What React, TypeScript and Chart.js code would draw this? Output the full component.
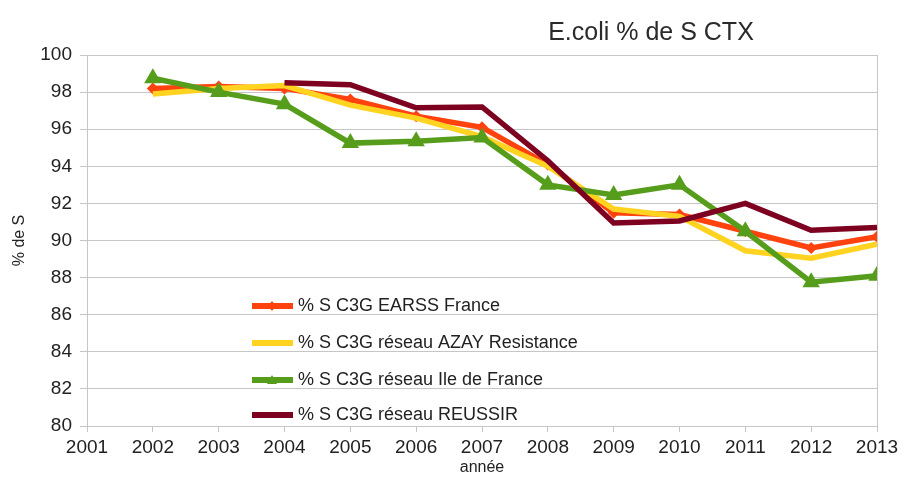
import React, { useEffect, useRef } from "react";
import { Chart, registerables } from "chart.js";

Chart.register(...registerables);

const TITLE = "E.coli % de S CTX";
const X_TITLE = "année";
const Y_TITLE = "% de S";

const years = [2002, 2003, 2004, 2005, 2006, 2007, 2008, 2009, 2010, 2011, 2012, 2013];
const earss = [98.2, 98.3, 98.2, 97.6, 96.7, 96.1, 94.1, 91.5, 91.4, 90.5, 89.6, 90.2];
const azay = [97.9, 98.2, 98.35, 97.3, 96.6, 95.6, 94.0, 91.7, 91.3, 89.45, 89.05, 89.8];
const idf = [98.75, 98.0, 97.35, 95.25, 95.35, 95.55, 93.0, 92.45, 93.0, 90.5, 87.75, 88.1];
const reussir = [null, null, 98.5, 98.4, 97.15, 97.2, 94.3, 90.95, 91.05, 92.0, 90.55, 90.7];

const seriesLabels = [
  "% S C3G EARSS France",
  "% S C3G réseau AZAY Resistance",
  "% S C3G réseau Ile de France",
  "% S C3G réseau REUSSIR",
];
const seriesColors = ["#ff420e", "#ffd320", "#579d1c", "#7e0021"];

const X_MIN = 2001;
const X_MAX = 2013;
const Y_MIN = 80;
const Y_MAX = 100;
const Y_STEP = 2;

const FONT = "'Liberation Sans', Arial, sans-serif";
const GRID = "#c6c6c6";
const TEXT = "#222222";

function toPoints(vals: (number | null)[]) {
  return years.map((y, i) => ({ x: y, y: vals[i] }));
}

const titlePlugin = {
  id: "customTitle",
  afterDraw(chart: any) {
    const { ctx } = chart;
    ctx.save();
    ctx.font = `25px ${FONT}`;
    ctx.fillStyle = "#2a2a2a";
    ctx.textAlign = "center";
    ctx.textBaseline = "middle";
    ctx.fillText(TITLE, 651, 33);
    ctx.restore();
  },
};

const legendPlugin = {
  id: "insideLegend",
  afterDatasetsDraw(chart: any) {
    const { ctx, chartArea } = chart;
    const x0 = chartArea.left + 165;
    const rows = [306, 343, 380, 415];
    ctx.save();
    chart.data.datasets.forEach((ds: any, i: number) => {
      const y = rows[i];
      ctx.strokeStyle = ds.borderColor;
      ctx.lineWidth = 6;
      ctx.lineCap = "butt";
      ctx.beginPath();
      ctx.moveTo(x0, y);
      ctx.lineTo(x0 + 41, y);
      ctx.stroke();
      if (ds.legendMarker === "diamond") {
        ctx.fillStyle = ds.borderColor;
        ctx.beginPath();
        ctx.moveTo(x0 + 20, y - 5);
        ctx.lineTo(x0 + 24, y);
        ctx.lineTo(x0 + 20, y + 5);
        ctx.lineTo(x0 + 16, y);
        ctx.closePath();
        ctx.fill();
      } else if (ds.legendMarker === "triangle") {
        ctx.fillStyle = ds.borderColor;
        ctx.beginPath();
        ctx.moveTo(x0 + 20, y - 5);
        ctx.lineTo(x0 + 25, y + 4);
        ctx.lineTo(x0 + 15, y + 4);
        ctx.closePath();
        ctx.fill();
      }
      ctx.font = `18px ${FONT}`;
      ctx.fillStyle = TEXT;
      ctx.textAlign = "left";
      ctx.textBaseline = "middle";
      ctx.fillText(ds.label, x0 + 46, y);
    });
    ctx.restore();
  },
};

export default function App() {
  const ref = useRef<HTMLCanvasElement | null>(null);

  useEffect(() => {
    document.body.style.margin = "0";
    const canvas = ref.current;
    if (!canvas) return;
    const chart = new Chart(canvas, {
      type: "line",
      data: {
        datasets: [
          {
            label: seriesLabels[0],
            data: toPoints(earss),
            borderColor: seriesColors[0],
            backgroundColor: seriesColors[0],
            borderWidth: 5.5,
            pointStyle: "rectRot",
            pointRadius: 6,
            pointBorderWidth: 0,
            order: 4,
            legendMarker: "diamond",
          } as any,
          {
            label: seriesLabels[1],
            data: toPoints(azay),
            borderColor: seriesColors[1],
            backgroundColor: seriesColors[1],
            borderWidth: 5.5,
            pointRadius: 0,
            order: 3,
            legendMarker: "none",
          } as any,
          {
            label: seriesLabels[2],
            data: toPoints(idf),
            borderColor: seriesColors[2],
            backgroundColor: seriesColors[2],
            borderWidth: 5.5,
            pointStyle: "triangle",
            pointRadius: 10,
            pointBorderWidth: 0,
            order: 2,
            legendMarker: "triangle",
          } as any,
          {
            label: seriesLabels[3],
            data: toPoints(reussir),
            borderColor: seriesColors[3],
            backgroundColor: seriesColors[3],
            borderWidth: 5.5,
            pointRadius: 0,
            order: 1,
            legendMarker: "none",
          } as any,
        ],
      },
      options: {
        animation: false,
        responsive: false,
        maintainAspectRatio: false,
        spanGaps: false,
        layout: { padding: { top: 55, right: 26, left: 0, bottom: 0 } },
        plugins: {
          legend: { display: false },
          title: { display: false },
          tooltip: { enabled: false },
        },
        scales: {
          x: {
            type: "linear",
            min: X_MIN,
            max: X_MAX,
            afterFit(s: any) {
              s.height = 51;
            },
            ticks: {
              stepSize: 1,
              color: TEXT,
              font: { family: FONT, size: 19 },
              padding: 4,
              callback: (v: any) => String(v),
            },
            grid: {
              color: (c: any) => (c.index === X_MAX - X_MIN ? GRID : "rgba(0,0,0,0)"),
              tickColor: GRID,
              tickLength: 6,
              lineWidth: 1,
            },
            border: { color: GRID, width: 1 },
            title: {
              display: true,
              text: X_TITLE,
              color: TEXT,
              font: { family: FONT, size: 16 },
              padding: { top: 1, bottom: 0 },
            },
          },
          y: {
            type: "linear",
            min: Y_MIN,
            max: Y_MAX,
            afterFit(s: any) {
              s.width = 87;
            },
            ticks: {
              stepSize: Y_STEP,
              color: TEXT,
              font: { family: FONT, size: 19 },
              padding: 8,
            },
            grid: {
              color: GRID,
              tickColor: GRID,
              tickLength: 7,
              lineWidth: 1,
            },
            border: { color: GRID, width: 1 },
            title: {
              display: true,
              text: Y_TITLE,
              color: TEXT,
              font: { family: FONT, size: 16 },
              padding: { top: 10, bottom: 0 },
            },
          },
        },
      } as any,
      plugins: [titlePlugin, legendPlugin],
    });
    return () => chart.destroy();
  }, []);

  return (
    <div style={{ width: 903, height: 477, position: "relative", background: "#ffffff" }}>
      <canvas ref={ref} width={903} height={477} style={{ display: "block" }} />
    </div>
  );
}
